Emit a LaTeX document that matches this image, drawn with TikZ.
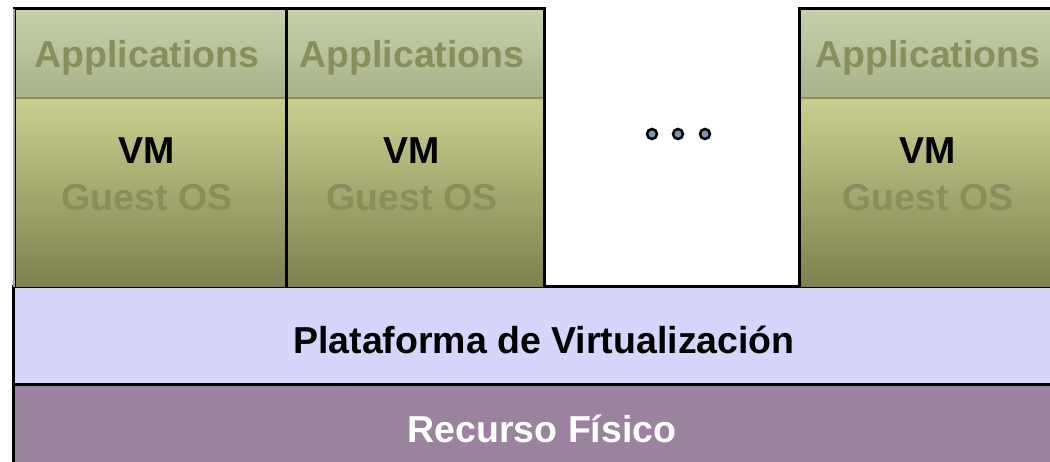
\documentclass[tikz,border=0pt]{standalone}
\usepackage{fontspec}
\setmainfont{Liberation Sans}
\definecolor{appshaut}{RGB}{198,208,172}
\definecolor{appsbas}{RGB}{168,178,136}
\definecolor{vmhaut}{RGB}{201,208,142}
\definecolor{vmbas}{RGB}{126,128,80}
\definecolor{olive}{RGB}{139,143,92}
\definecolor{texteolive}{RGB}{138,142,92}
\definecolor{plataforma}{RGB}{214,214,252}
\definecolor{recurso}{RGB}{155,130,158}
\definecolor{point}{RGB}{127,147,178}
\tikzset{
  cadre/.style={line width=3pt, color=black},
  texte/.style={inner sep=0pt, anchor=base, font=\bfseries\fontsize{37.5}{42}\selectfont},
}
\begin{document}
\begin{tikzpicture}[x=1pt,y=-1pt]
    \useasboundingbox (0,0) rectangle (1050,462);
    \fill[white] (0,0) rectangle (1050,462);
    % les couches du bas
    \fill[recurso] (13,385) rectangle (1052,464);
    \fill[plataforma] (13,287) rectangle (1052,385);
    \draw[cadre] (1052,287) -- (13,287) -- (13,464);
    \draw[cadre] (13,385) -- (1052,385);
    \node[texte] (plat) at (544,354) {Plataforma de Virtualización};
    \node[texte, white] (rec) at (542,442) {Recurso Físico};
    % les machines virtuelles
    \foreach \x/\w/\n in {14/272/1, 286/258/2, 799/264/3}{
            \shade[top color=appshaut, bottom color=appsbas] (\x,9) rectangle (\x+\w,98);
            \shade[top color=vmhaut, bottom color=vmbas] (\x,98) rectangle (\x+\w,287);
            \draw[line width=2pt, olive] (\x,98) -- ++(\w,0);
            \draw[cadre] (\x,287) -- (\x,9) -- (\x+\w,9) -- (\x+\w,287);
            \node[texte, texteolive] (app\n) at (\x+\w/2-3,68) {Applications};
            \node[texte] (vm\n) at (\x+\w/2-3,164) {VM};
            \node[texte, texteolive] (os\n) at (\x+\w/2-3,211) {Guest OS};
        }
    \draw[line width=2pt, gray!70] (14,287) -- (14,9); % bord gauche
    % les points
    \foreach \px/\n in {652/a, 678/b, 705/c}{
            \node[circle, draw=black, line width=2.5pt, fill=point, minimum size=10pt, inner sep=0pt] (pt\n) at (\px,134) {};
        }
\end{tikzpicture}
\end{document}
